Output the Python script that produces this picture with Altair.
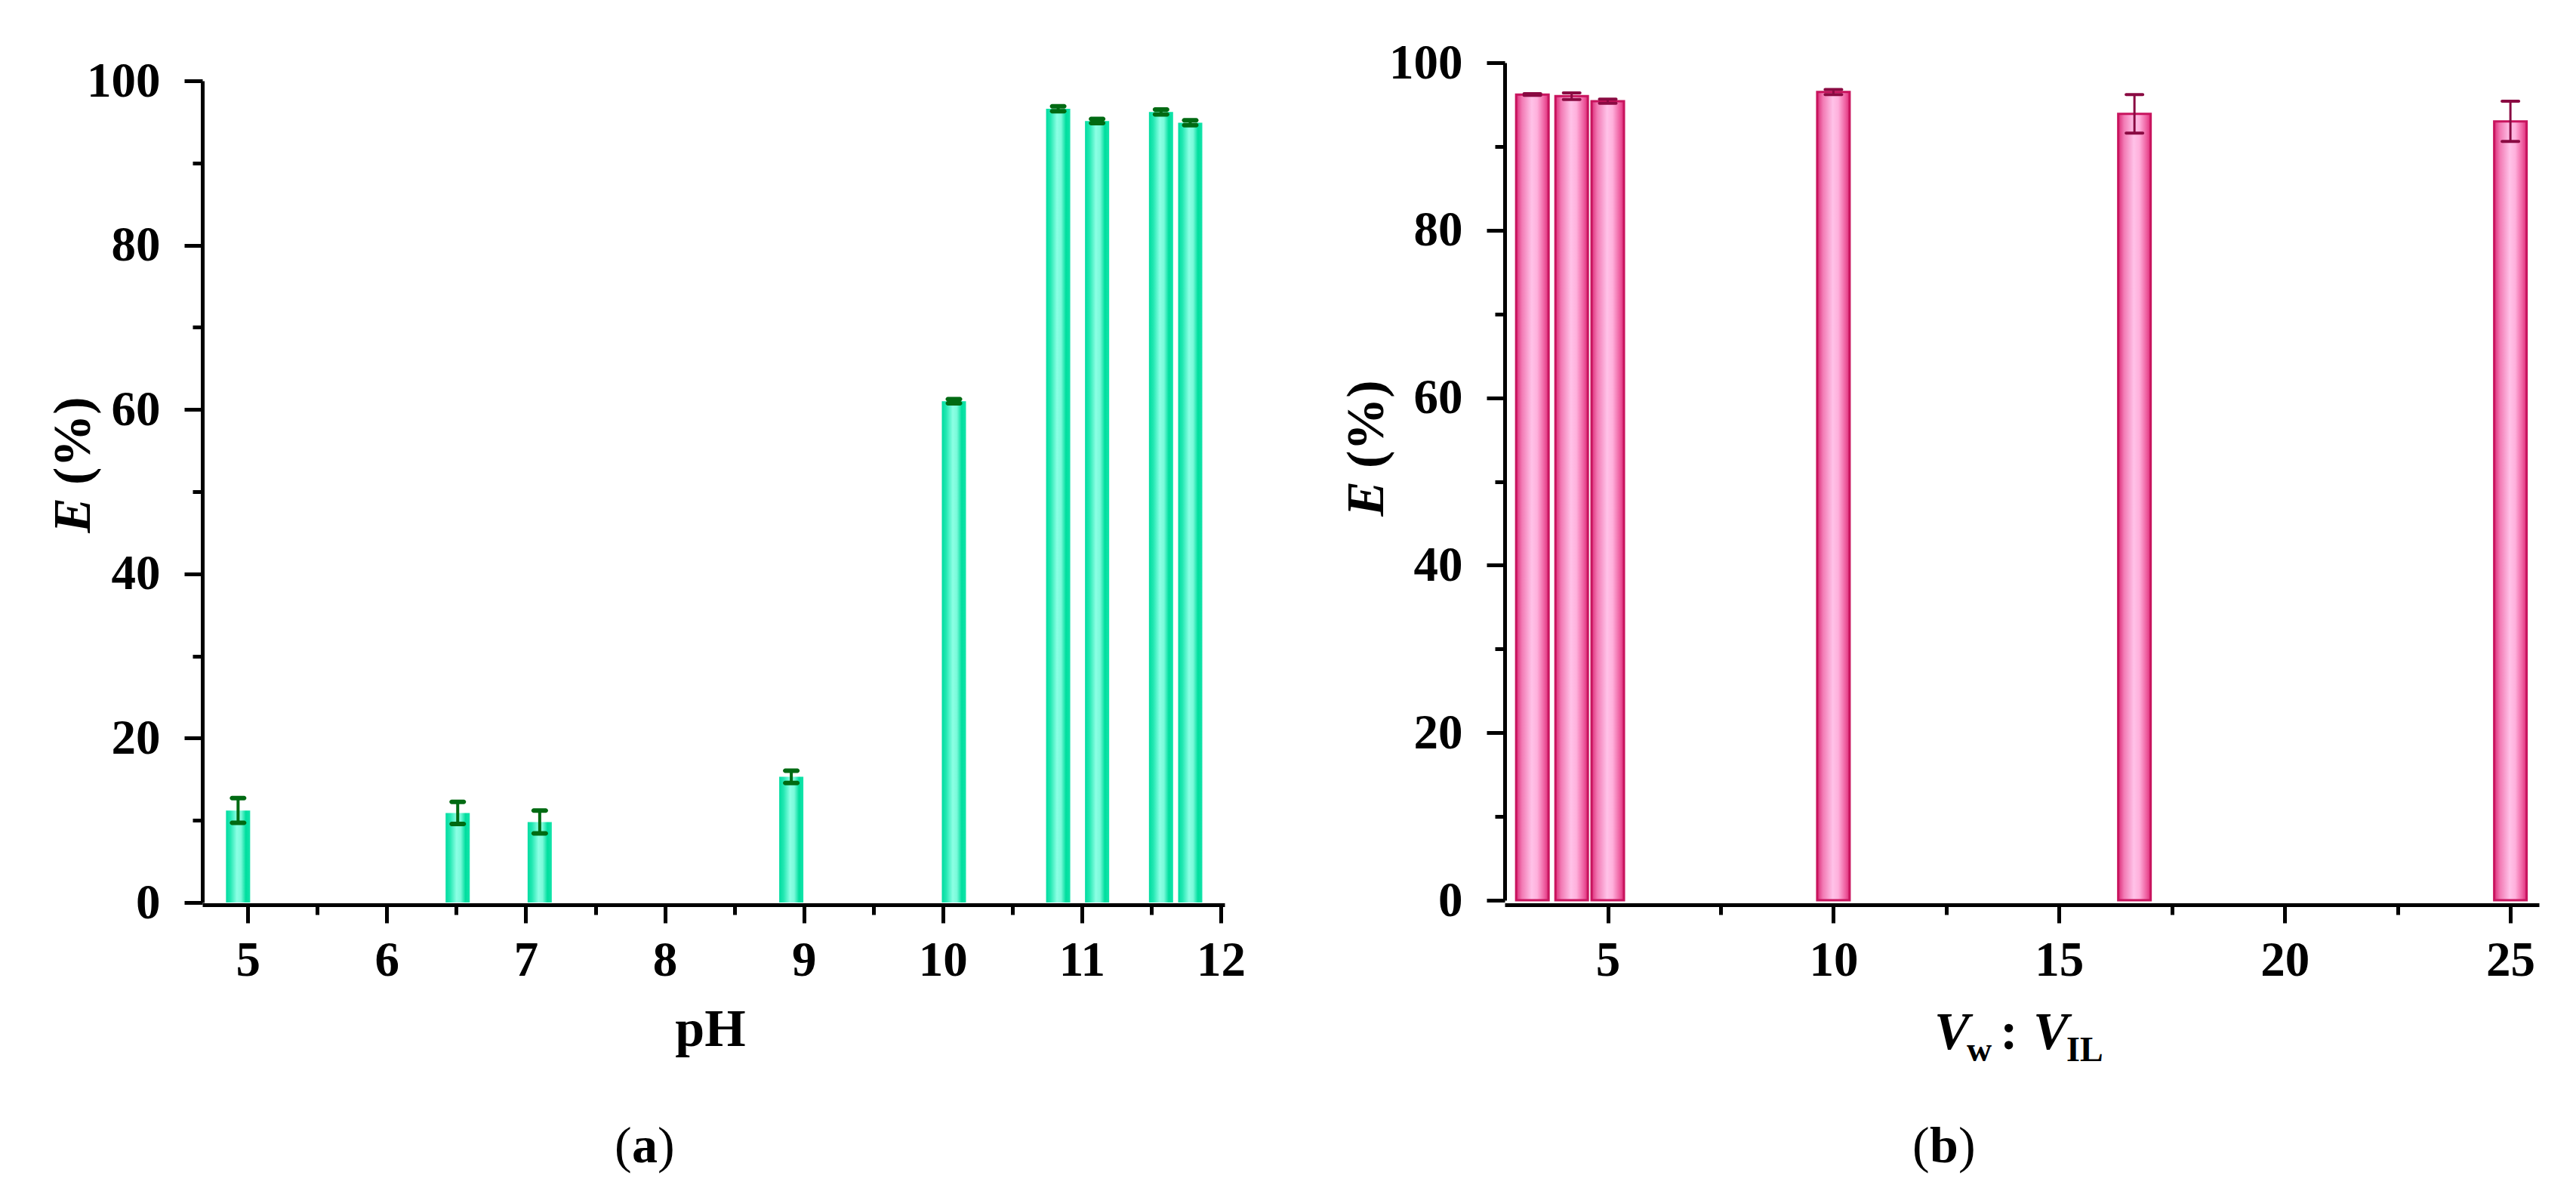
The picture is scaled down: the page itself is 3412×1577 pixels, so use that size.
import altair as alt
import pandas as pd

# ---- data ----
ph = [4.93, 6.51, 7.10, 8.91, 10.08, 10.83, 11.11, 11.57, 11.78]
e_ph = [11.2, 10.9, 9.8, 15.3, 61.0, 96.6, 95.1, 96.2, 94.9]
err_ph = [1.5, 1.35, 1.4, 0.75, 0.25, 0.3, 0.25, 0.3, 0.3]

ratio = [3.33, 4.2, 5.0, 10.0, 16.67, 25.0]
e_ratio = [96.2, 96.0, 95.4, 96.5, 93.9, 93.0]
err_ratio = [0.1, 0.4, 0.25, 0.3, 2.3, 2.4]

x_ticks_a = [5, 5.5, 6, 6.5, 7, 7.5, 8, 8.5, 9, 9.5, 10, 10.5, 11, 11.5, 12]
x_ticks_b = [5, 7.5, 10, 12.5, 15, 17.5, 20, 22.5, 25]
y_ticks = [0, 10, 20, 30, 40, 50, 60, 70, 80, 90, 100]

df_a = pd.DataFrame({"x": ph, "E": e_ph, "err": err_ph})
df_b = pd.DataFrame({"x": ratio, "E": e_ratio, "err": err_ratio})

FONT = "Liberation Serif"
W_A, W_B, H = 1354, 1370, 1115


def axis_common(values, major_test):
    return dict(
        values=values,
        domainColor="black",
        domainWidth=5,
        tickColor="black",
        tickWidth=5,
        tickSize={"condition": {"test": major_test, "value": 24}, "value": 13},
        labelExpr=f"({major_test}) ? toString(datum.value) : ''",
        labelFont=FONT,
        labelFontWeight="bold",
        labelFontSize=65,
        labelColor="black",
        grid=False,
        title=None,
        labelFlush=False,
        labelOverlap=False,
    )


def panel(df, xdom, xvals, xmajor, yrange, bar_size, grad, stroke, err_color,
          cap_size, cap_thick, stem_w):
    base = alt.Chart(df).transform_calculate(
        lo="datum.E - datum.err", hi="datum.E + datum.err"
    )
    xenc = alt.X(
        "x:Q",
        scale=alt.Scale(domain=xdom, nice=False, zero=False),
        axis=alt.Axis(**axis_common(xvals, xmajor), labelPadding=18),
    )
    yenc = alt.Y(
        "E:Q",
        scale=alt.Scale(domain=[0, 100], nice=False, range=yrange),
        axis=alt.Axis(**axis_common(y_ticks, "datum.value % 20 === 0"), labelPadding=32),
    )
    bar_kw = dict(size=bar_size, color=grad)
    if stroke:
        bar_kw.update(stroke=stroke, strokeWidth=3)
    bars = base.mark_bar(**bar_kw).encode(x=xenc, y=yenc)
    stem = base.mark_rule(color=err_color, strokeWidth=stem_w).encode(
        x="x:Q", y="lo:Q", y2="hi:Q"
    )
    cap_lo = base.mark_tick(
        orient="horizontal", size=cap_size, thickness=cap_thick, color=err_color,
        cornerRadius=cap_thick / 2, opacity=1,
    ).encode(x="x:Q", y="lo:Q")
    cap_hi = base.mark_tick(
        orient="horizontal", size=cap_size, thickness=cap_thick, color=err_color,
        cornerRadius=cap_thick / 2, opacity=1,
    ).encode(x="x:Q", y="hi:Q")
    return [bars, stem, cap_lo, cap_hi]


def txt(text, x, y, size=70, italic=False, bold=True, align="left", angle=0,
        baseline="alphabetic"):
    kw = dict(
        text=text, font=FONT, fontSize=size, align=align, baseline=baseline,
        color="black", fontWeight="bold" if bold else "normal",
        fontStyle="italic" if italic else "normal",
    )
    if angle:
        kw["angle"] = angle
    return alt.Chart(pd.DataFrame({"d": [0]})).mark_text(**kw).encode(
        x=alt.value(x), y=alt.value(y)
    )


grad_a = alt.Gradient(
    gradient="linear", x1=0, x2=1, y1=0, y2=0,
    stops=[
        alt.GradientStop(offset=0.0, color="#00DCA0"),
        alt.GradientStop(offset=0.18, color="#22E8B2"),
        alt.GradientStop(offset=0.45, color="#8CFFE4"),
        alt.GradientStop(offset=0.62, color="#7AFADA"),
        alt.GradientStop(offset=0.82, color="#00DE9E"),
        alt.GradientStop(offset=1.0, color="#14E4AA"),
    ],
)
grad_b = alt.Gradient(
    gradient="linear", x1=0, x2=1, y1=0, y2=0,
    stops=[
        alt.GradientStop(offset=0.0, color="#DC2C78"),
        alt.GradientStop(offset=0.18, color="#F27AB4"),
        alt.GradientStop(offset=0.48, color="#FFC2E8"),
        alt.GradientStop(offset=0.65, color="#FFB0DC"),
        alt.GradientStop(offset=0.88, color="#EE5C9E"),
        alt.GradientStop(offset=1.0, color="#DC2C78"),
    ],
)

layers_a = panel(
    df_a, [4.7, 12], x_ticks_a, "datum.value % 1 === 0", [1112, 24], 32,
    grad_a, None, "#006A12", 22, 6, 4,
)
layers_a += [
    txt("E", -170, 576, italic=True, align="right", angle=270, baseline="middle"),
    txt("(%)", -170, 559, align="left", angle=270, baseline="middle"),
    txt("pH", 673, 1302, align="center"),
    txt("(", 546, 1456, size=68, bold=False),
    txt("a", 569, 1456, size=68),
    txt(")", 603, 1456, size=68, bold=False),
]
chart_a = alt.layer(*layers_a).properties(width=W_A, height=H)

layers_b = panel(
    df_b, [2.8, 25.55], x_ticks_b, "datum.value % 5 === 0", [1109, 0], 43,
    grad_b, "#C8145E", "#8A0A42", 26, 4, 3,
)
layers_b += [
    txt("E", -182, 554, italic=True, align="right", angle=270, baseline="middle"),
    txt("(%)", -182, 537, align="left", angle=270, baseline="middle"),
    txt("V", 569, 1306, italic=True),
    txt("w", 612, 1322, size=46),
    txt(":", 668, 1306, align="center"),
    txt("V", 700, 1306, italic=True),
    txt("IL", 744, 1322, size=46),
    txt("(", 540, 1456, size=68, bold=False),
    txt("b", 563, 1456, size=68),
    txt(")", 601, 1456, size=68, bold=False),
]
chart_b = alt.layer(*layers_b).properties(width=W_B, height=H)

chart = (
    alt.hconcat(chart_a, chart_b, spacing=371, bounds="flush")
    .properties(padding={"left": 63, "top": 51, "right": 5, "bottom": 5}, background="white")
    .configure_view(stroke=None)
)

chart.save("out.html", embed_options={"renderer": "svg", "actions": False})
